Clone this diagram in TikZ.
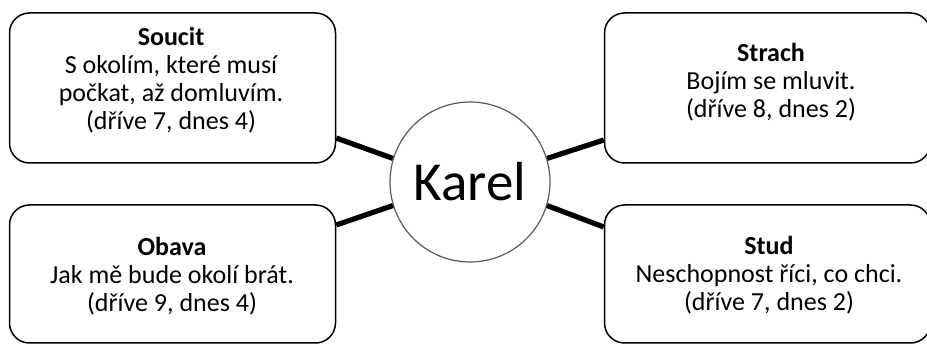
\documentclass[tikz,border=0pt]{standalone}
\usepackage{fontspec}
\setmainfont{Carlito}

\begin{document}
\begin{tikzpicture}[x=0.5pt,y=-0.5pt,
    box/.style={draw, rounded corners=10pt, line width=0.75pt,
      minimum width=163pt, inner sep=0pt},
    txt/.style={align=center, font=\fontsize{13}{14}\selectfont},
    link/.style={line width=2.6pt}]
  \useasboundingbox (0,0) rectangle (927,347);

  % Boxes
  \node[box, minimum height=75pt] (soucit) at (172.5,88) {};
  \node[box, minimum height=75pt] (strach) at (767.5,88) {};
  \node[box, minimum height=69pt] (obava) at (172.5,274) {};
  \node[box, minimum height=69pt] (stud) at (767.5,274) {};

  \node[txt] (soucittxt) at (171,80) {\textbf{Soucit}\\S okolím, které musí\\počkat, až domluvím.\\(dříve 7, dnes 4)};
  \node[txt] (strachtxt) at (771,82) {\textbf{Strach}\\Bojím se mluvit.\\(dříve 8, dnes 2)};
  \node[txt] (obavatxt) at (172,276) {\textbf{Obava}\\Jak mě bude okolí brát.\\(dříve 9, dnes 4)};
  \node[txt] (studtxt) at (769,275) {\textbf{Stud}\\Neschopnost říci, co chci.\\(dříve 7, dnes 2)};

  % Karel
  \node[circle, draw=black!65, line width=0.6pt, fill=white, minimum size=80pt,
    inner sep=0pt, font=\fontsize{27.5}{30}\selectfont] (karel) at (470,182) {Karel};

  \draw[link] ([yshift=-25pt]soucit.east) -- (karel.163);
  \draw[link] ([yshift=24.5pt]obava.east) -- (karel.197);
  \draw[link] (karel.17) -- ([yshift=-26pt]strach.west);
  \draw[link] (karel.343) -- ([yshift=23.5pt]stud.west);
\end{tikzpicture}
\end{document}
